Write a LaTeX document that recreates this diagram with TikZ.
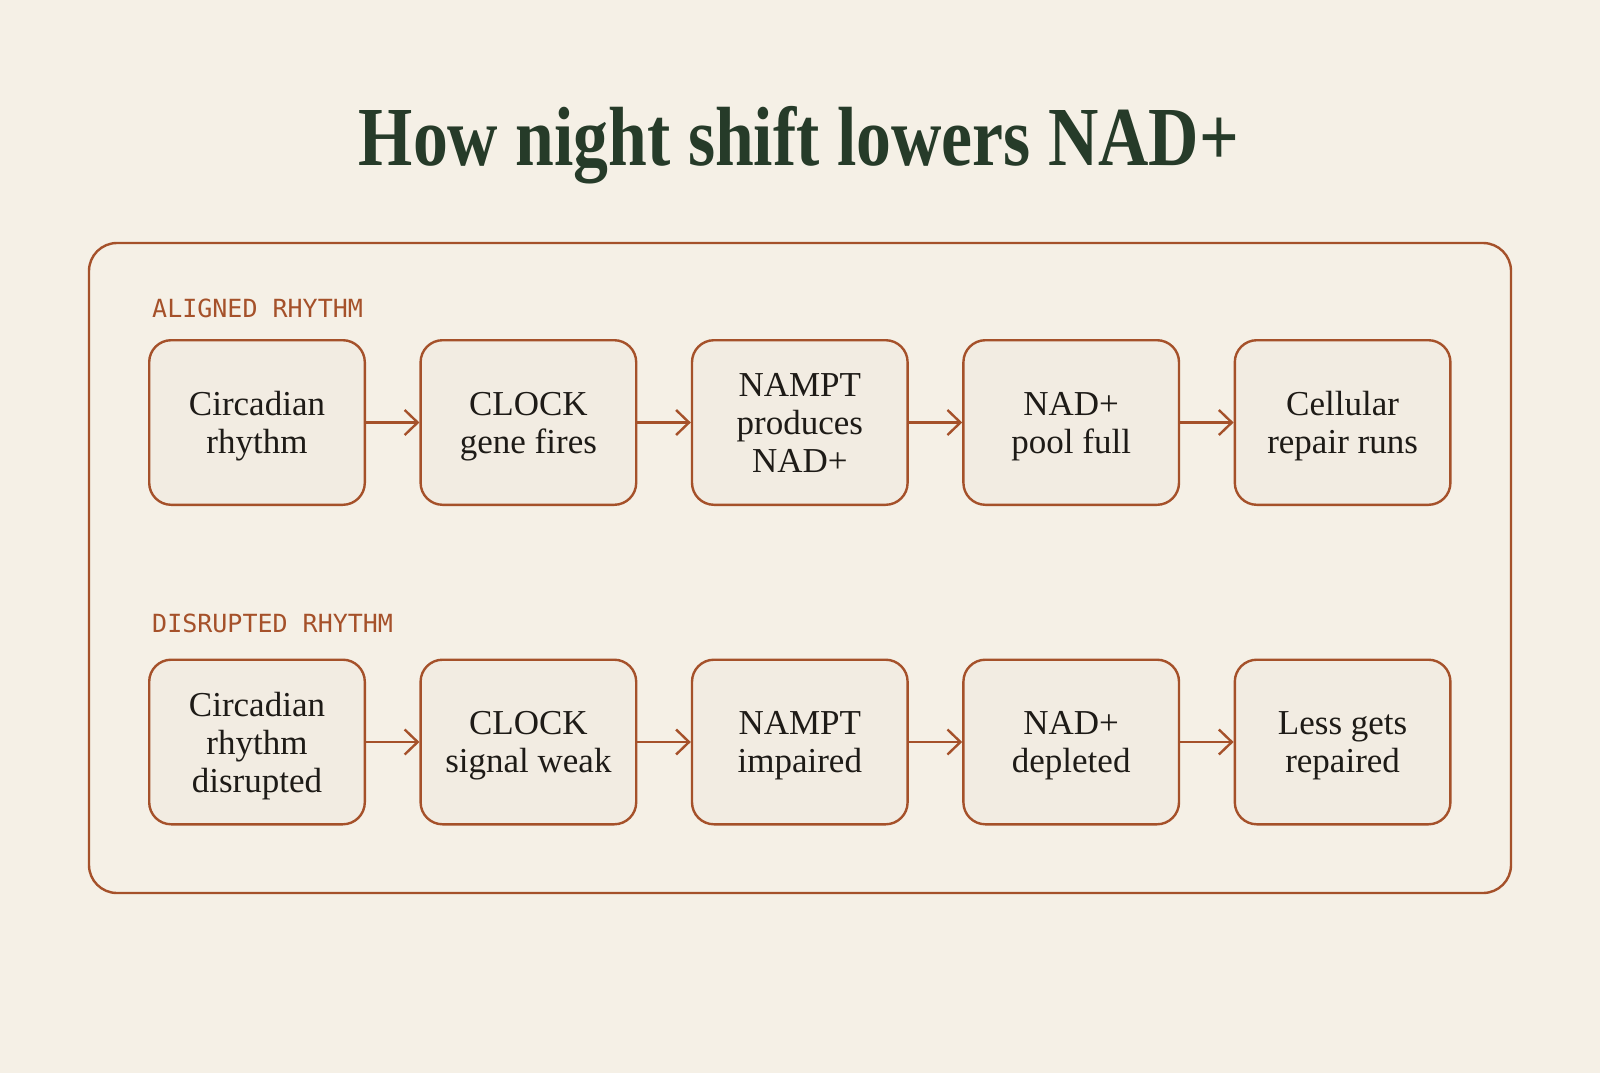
\documentclass[tikz,border=0pt]{standalone}
\usepackage{fontspec}
\setmainfont{Liberation Serif}
\newfontfamily\titlefont[FakeStretch=0.83]{Liberation Serif}
\newfontfamily\labelfont{DejaVu Sans Mono}
\usetikzlibrary{arrows.meta,positioning}

\definecolor{paper}{HTML}{F5F0E6}
\definecolor{boxfill}{HTML}{F2ECE2}
\definecolor{rust}{HTML}{A5512A}
\definecolor{pine}{HTML}{263B29}
\definecolor{ink}{HTML}{1E1B17}

\tikzset{
  stage/.style={draw=rust, fill=boxfill, line width=2.4pt, rounded corners=22pt,
    minimum width=215.6pt, minimum height=164.6pt, inner sep=0pt, align=center,
    text depth=-3pt, text=ink, font=\fontsize{35}{38}\selectfont},
  rowlabel/.style={anchor=base west, inner sep=0pt, text=rust,
    font=\labelfont\fontsize{25}{25}\selectfont},
  flow/.style={draw=rust, line width=2.4pt, -{Straight Barb[length=13pt,width=25pt,line width=2.4pt]}}
}

\begin{document}
\begin{tikzpicture}[x=1pt,y=-1pt,node distance=53.4pt]
  \path[fill=paper,use as bounding box] (0,0) rectangle (1600,1073);

  % title
  \node[anchor=base, inner sep=0pt, text=pine, font=\titlefont\bfseries\fontsize{84}{84}\selectfont]
    (title) at (799,165) {How night shift lowers NAD+};

  % frame
  \draw[rust, line width=2.4pt, rounded corners=28pt] (89,243) rectangle (1511,893);

  % aligned rhythm
  \node[rowlabel] (lblA) at (152,317) {ALIGNED RHYTHM};
  \node[stage] (a1) at (257,422.5) {Circadian\\rhythm};
  \node[stage, right=of a1] (a2) {CLOCK\\gene fires};
  \node[stage, right=of a2] (a3) {NAMPT\\produces\\NAD+};
  \node[stage, right=of a3] (a4) {NAD+\\pool full};
  \node[stage, right=of a4] (a5) {Cellular\\repair runs};

  % disrupted rhythm
  \node[rowlabel] (lblD) at (152,632) {DISRUPTED RHYTHM};
  \node[stage] (d1) at (257,742) {Circadian\\rhythm\\disrupted};
  \node[stage, right=of d1] (d2) {CLOCK\\signal weak};
  \node[stage, right=of d2] (d3) {NAMPT\\impaired};
  \node[stage, right=of d3] (d4) {NAD+\\depleted};
  \node[stage, right=of d4] (d5) {Less gets\\repaired};

  \foreach \r in {a,d}{
    \draw[flow] (\r1) -- (\r2);
    \draw[flow] (\r2) -- (\r3);
    \draw[flow] (\r3) -- (\r4);
    \draw[flow] (\r4) -- (\r5);
  }
\end{tikzpicture}
\end{document}
